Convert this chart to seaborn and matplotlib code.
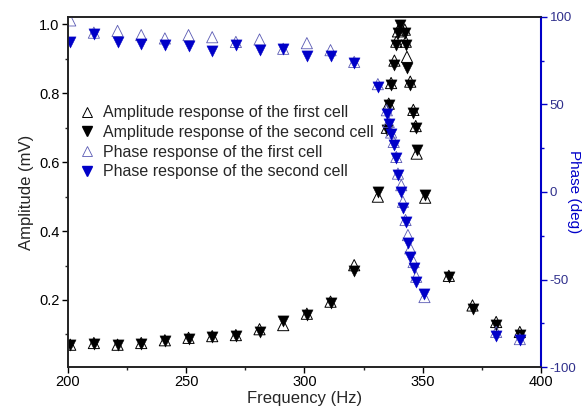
import matplotlib
matplotlib.use("Agg")
import matplotlib.pyplot as plt
import seaborn as sns
import pandas as pd
from matplotlib.ticker import MultipleLocator
from matplotlib.lines import Line2D

# ── Data ──────────────────────────────────────────────────────
amp_freq = [201, 211, 221, 231, 241, 251, 261, 271, 281, 291, 301, 311, 321,
            331, 334.8, 335.6, 336.6, 338, 338.8, 339.5, 340.5, 342.4, 342.8,
            343.3, 344.7, 346, 347, 347.4, 351, 361, 371, 381, 391]
amp_first = [0.070, 0.075, 0.070, 0.075, 0.083, 0.090, 0.095, 0.098, 0.115,
             0.127, 0.160, 0.195, 0.301, 0.500, 0.700, 0.770, 0.830, 0.895,
             0.950, 0.980, 0.995, 0.985, 0.950, 0.906, 0.834, 0.752, 0.705,
             0.625, 0.497, 0.270, 0.184, 0.136, 0.107]
amp_second = [0.068, 0.073, 0.068, 0.073, 0.080, 0.087, 0.092, 0.095, 0.107,
              0.138, 0.155, 0.192, 0.283, 0.514, 0.694, 0.766, 0.824, 0.883,
              0.941, 0.975, 0.999, 0.975, 0.941, 0.873, 0.824, 0.742, 0.698,
              0.635, 0.504, 0.267, 0.175, 0.126, 0.099]

phase_freq = [201, 211, 221, 231, 241, 251, 261, 271, 281, 291, 301, 311, 321,
              331, 334.8, 335.6, 336.6, 337.7, 338.8, 339.5, 340.9, 341.6,
              342.7, 343.7, 344.7, 346.1, 347.2, 350.7, 381, 391]
phase_first = [98, 91, 92, 89.6, 87.7, 89.6, 88.4, 85.7, 87.1, 81.8, 85, 81,
               74.3, 61.6, 46.7, 40, 34, 28.6, 20, 10.5, 3.9, -5.6, -16, -24.6,
               -32.2, -40, -48.4, -60, -79.9, -84]
phase_second = [85.7, 90.5, 85.7, 84.8, 83.8, 83.2, 80.7, 83.8, 80.9, 81.5,
                77.8, 77.8, 73.5, 59.8, 44.8, 39.1, 33.4, 26.8, 19.2, 9.6, 0.1,
                -9.4, -17, -29.4, -37, -43.6, -51.3, -58.3, -82.3, -84.6]

labels = ["Amplitude response of the first cell",
          "Amplitude response of the second cell",
          "Phase response of the first cell",
          "Phase response of the second cell"]

BLUE = "#0000c8"
PHASE_OPEN = "#5a5ab4"

amp = pd.DataFrame({"freq": amp_freq, "first": amp_first, "second": amp_second})
phase = pd.DataFrame({"freq": phase_freq, "first": phase_first, "second": phase_second})

sns.set_theme(style="ticks")
plt.rcParams["font.family"] = ["Liberation Sans", "DejaVu Sans"]
plt.rcParams["axes.unicode_minus"] = False

fig = plt.figure(figsize=(5.85, 4.12), dpi=100)
ax = fig.add_axes([0.116, 0.109, 0.809, 0.850])
ax2 = ax.twinx()

MS = 65
sns.scatterplot(data=amp, x="freq", y="first", ax=ax, marker="^", s=MS,
                facecolors="none", edgecolors="black", linewidths=0.7)
sns.scatterplot(data=amp, x="freq", y="second", ax=ax, marker="v", s=MS,
                color="black", edgecolor="black", linewidth=0.3)
sns.scatterplot(data=phase, x="freq", y="first", ax=ax2, marker="^", s=MS,
                facecolors="none", edgecolors=PHASE_OPEN, linewidths=0.6)
sns.scatterplot(data=phase, x="freq", y="second", ax=ax2, marker="v", s=MS,
                color=BLUE, edgecolor=BLUE, linewidth=0.3)

# ── Axes ──────────────────────────────────────────────────────
ax.set_xlim(200, 400)
ax.set_ylim(0.005, 1.022)
ax2.set_ylim(-100, 100)
ax.xaxis.set_major_locator(MultipleLocator(50))
ax.xaxis.set_minor_locator(MultipleLocator(25))
ax.yaxis.set_major_locator(MultipleLocator(0.2))
ax.yaxis.set_minor_locator(MultipleLocator(0.1))
ax2.yaxis.set_major_locator(MultipleLocator(50))
ax2.yaxis.set_minor_locator(MultipleLocator(25))
ax.set_yticks([0.2, 0.4, 0.6, 0.8, 1.0])

ax.set_xlabel("Frequency (Hz)", fontsize=12, labelpad=1)
ax.set_ylabel("Amplitude (mV)", fontsize=12, labelpad=4)
ax2.set_ylabel("Phase (deg)", fontsize=11, color=BLUE, rotation=270, labelpad=2)

ax.tick_params(which="major", direction="out", length=4, width=1, labelsize=10.5,
               pad=2, colors="black")
ax.tick_params(which="minor", direction="out", length=2.5, width=1)
ax2.tick_params(which="major", direction="out", length=4, width=1, labelsize=9.5,
                pad=2, colors=BLUE, labelcolor="#30308c")
ax2.tick_params(which="minor", direction="out", length=2.5, width=1, colors=BLUE)
ax2.yaxis.set_label_coords(1.085, 0.5)

for a in (ax, ax2):
    for sp in a.spines.values():
        sp.set_visible(True)
        sp.set_linewidth(1.2)
        sp.set_color("#222222")
ax2.spines["right"].set_color(BLUE)
ax2.spines["right"].set_linewidth(1.5)

# ── Legend ────────────────────────────────────────────────────
for a in (ax, ax2):
    if a.get_legend() is not None:
        a.get_legend().remove()
handles = [
    Line2D([], [], ls="none", marker="^", ms=7.5, mfc="none", mec="black", mew=0.7),
    Line2D([], [], ls="none", marker="v", ms=7.5, mfc="black", mec="black"),
    Line2D([], [], ls="none", marker="^", ms=7.5, mfc="none", mec=PHASE_OPEN, mew=0.6),
    Line2D([], [], ls="none", marker="v", ms=7.5, mfc=BLUE, mec=BLUE),
]
ax2.legend(handles, labels, loc="upper left", bbox_to_anchor=(0.0, 0.78),
           frameon=False, fontsize=11.5, handlelength=1.0, handletextpad=0.5,
           labelspacing=0.3, borderpad=0.2)

fig.savefig("out.png", dpi=100)
